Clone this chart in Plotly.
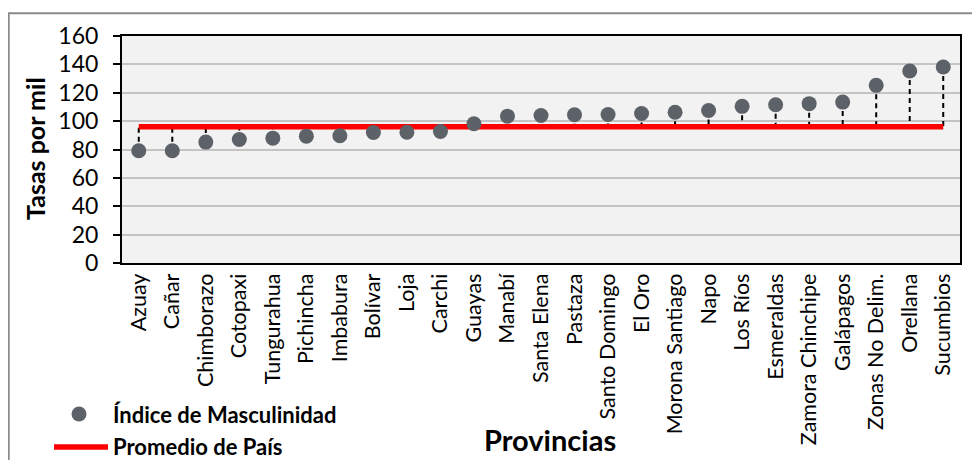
import plotly.graph_objects as go

provincias = ["Azuay", "Cañar", "Chimborazo", "Cotopaxi", "Tungurahua", "Pichincha",
              "Imbabura", "Bolívar", "Loja", "Carchi", "Guayas", "Manabí", "Santa Elena",
              "Pastaza", "Santo Domingo", "El Oro", "Morona Santiago", "Napo", "Los Ríos",
              "Esmeraldas", "Zamora Chinchipe", "Galápagos", "Zonas No Delim.", "Orellana",
              "Sucumbios"]
indice = [79.1, 79.1, 85.2, 87.1, 88.0, 89.4, 89.7, 92.0, 92.2, 92.7, 98.1, 103.5, 104.0,
          104.5, 104.7, 105.4, 106.3, 107.5, 110.4, 111.5, 112.3, 113.4, 125.2, 135.3, 138.1]
promedio = 96.1
y_ticks = [0, 20, 40, 60, 80, 100, 120, 140, 160]

FONT = "Lato, Carlito, Calibri, sans-serif"

# drop lines
dx, dy = [], []
for p, v in zip(provincias, indice):
    dx += [p, p, None]
    dy += [v, promedio, None]

fig = go.Figure()
fig.add_trace(go.Scatter(x=dx, y=dy, mode="lines",
                         line=dict(color="black", width=2, dash="5px,4px"),
                         showlegend=False, hoverinfo="skip"))
fig.add_trace(go.Scatter(x=provincias, y=[promedio] * len(provincias), mode="lines",
                         name="Promedio de País",
                         line=dict(color="#ff0000", width=5.5), showlegend=False))
fig.add_trace(go.Scatter(x=provincias, y=indice, mode="markers",
                         name="Índice de Masculinidad",
                         marker=dict(color="#5d6168", size=15), showlegend=False))

OFF = 8  # page body margin
W, H = 980 - OFF, 460 - OFF
L, R, T = 122 - OFF, 20, 36 - OFF
B = H - (263 - OFF)
pw, ph = W - L - R, H - T - B


def px(x):
    return (x - OFF - L) / pw


def py(y):
    return (H - B - (y - OFF)) / ph


shapes = [
    # outer chart border
    dict(type="rect", xref="paper", yref="paper", x0=px(8.7), x1=px(1000),
         y0=py(520), y1=py(13.3), line=dict(color="#8a8a8a", width=2), layer="below"),
    # legend line
    dict(type="line", xref="paper", yref="paper", x0=px(54), x1=px(108),
         y0=py(447), y1=py(447), line=dict(color="#ff0000", width=5.5)),
    # legend marker
    dict(type="circle", xref="paper", yref="paper", xsizemode="pixel", ysizemode="pixel",
         xanchor=px(79), yanchor=py(414), x0=-7.5, x1=7.5, y0=-7.5, y1=7.5,
         fillcolor="#5d6168", line=dict(width=0)),
]

annotations = [
    dict(text="<b>Índice de Masculinidad</b>", xref="paper", yref="paper",
         x=px(111), y=py(414), xanchor="left", yanchor="middle", showarrow=False,
         font=dict(family=FONT, size=22, color="black")),
    dict(text="<b>Promedio de País</b>", xref="paper", yref="paper",
         x=px(111), y=py(446), xanchor="left", yanchor="middle", showarrow=False,
         font=dict(family=FONT, size=22, color="black")),
    dict(text="<b>Provincias</b>", xref="paper", yref="paper",
         x=px(550), y=py(439), xanchor="center", yanchor="middle", showarrow=False,
         font=dict(family=FONT, size=29, color="black")),
    dict(text="<b>Tasas por mil</b>", xref="paper", yref="paper", textangle=-90,
         x=px(35), y=py(149), xanchor="center", yanchor="middle", showarrow=False,
         font=dict(family=FONT, size=25, color="black")),
]

fig.update_layout(
    width=W, height=H,
    margin=dict(l=L, r=R, t=T, b=B, pad=0),
    paper_bgcolor="white",
    plot_bgcolor="#f2f2f2",
    font=dict(family=FONT, color="black"),
    shapes=shapes,
    annotations=annotations,
    showlegend=False,
)
fig.update_xaxes(type="category", categoryorder="array", categoryarray=provincias,
                 range=[-0.5, len(provincias) - 0.5],
                 tickangle=-90, tickfont=dict(family=FONT, size=21.5, color="black"),
                 showgrid=False, showline=True, linecolor="black", linewidth=2,
                 mirror=True, ticks="", zeroline=False)
fig.update_yaxes(range=[0, 160], tickvals=y_ticks, ticktext=[str(t) for t in y_ticks],
                 tickfont=dict(family=FONT, size=23, color="black"),
                 showgrid=True, gridcolor="#c4c4c4", gridwidth=1.5,
                 showline=True, linecolor="black", linewidth=2, mirror=True,
                 ticks="outside", ticklen=7, tickwidth=1.5, tickcolor="black",
                 ticklabelstandoff=10, zeroline=False)

fig.write_html("out.html")
